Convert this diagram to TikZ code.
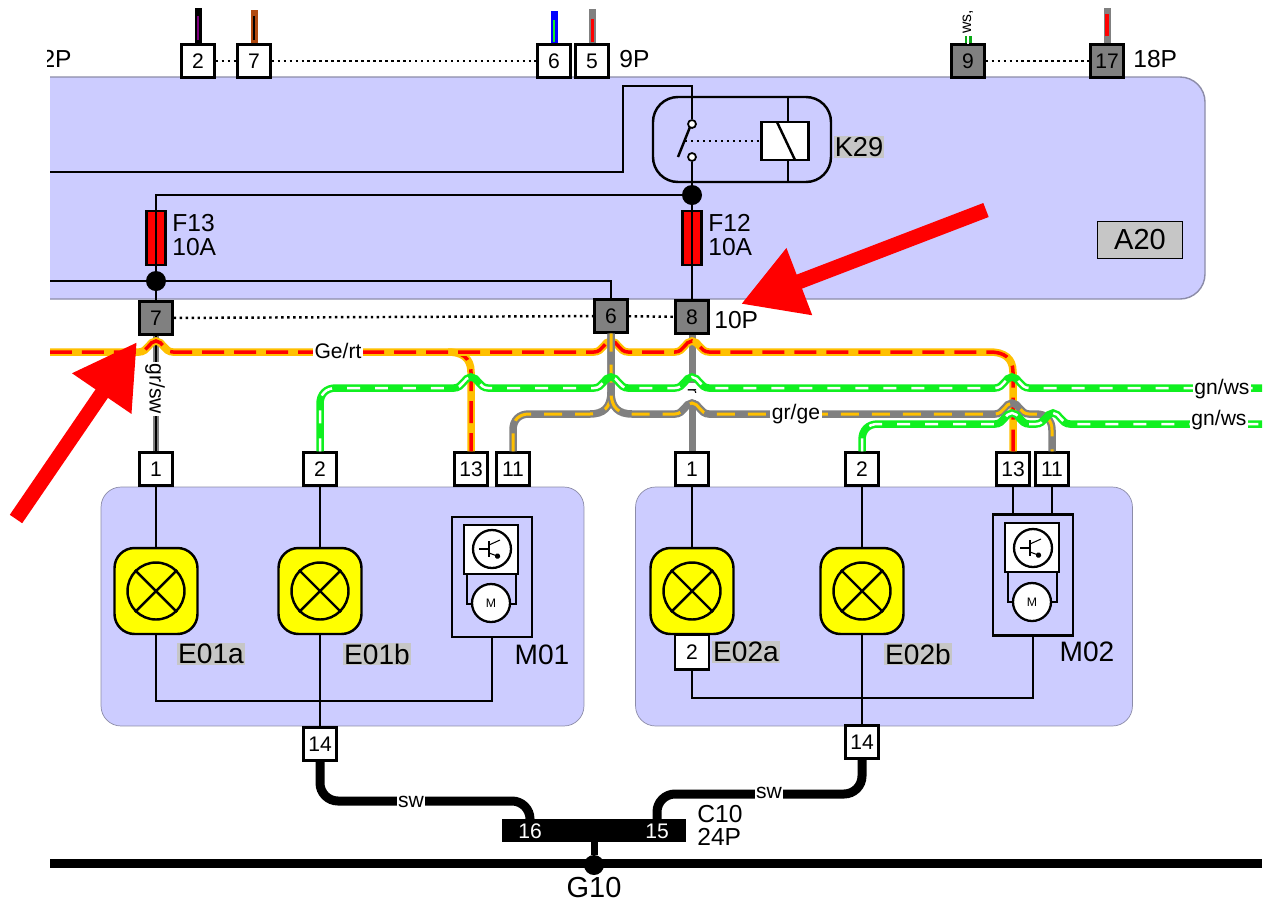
\documentclass[tikz,border=0pt]{standalone}
\usepackage{amsmath}
\usepackage{fontspec}
\setmainfont{Liberation Sans}
\usetikzlibrary{arrows.meta}
\usetikzlibrary{backgrounds}

\definecolor{unitblue}{HTML}{CCCCFF}
\definecolor{unitedge}{HTML}{8C8CA8}
\definecolor{tagGray}{HTML}{C6C6C6}
\definecolor{pinGray}{HTML}{808080}
\definecolor{wireYellow}{HTML}{FFC000}
\definecolor{wireGreen}{HTML}{10F020}
\definecolor{wireBrown}{HTML}{B04A10}
\definecolor{lampYellow}{HTML}{FFFF00}

\newcommand{\hop}[2]{-- ({#1-17},#2) .. controls ({#1-8},#2) and ({#1-7},{#2-11}) .. (#1,{#2-11}) .. controls ({#1+7},{#2-11}) and ({#1+8},#2) .. ({#1+17},#2)}

\tikzset{
        pinbox/.style={draw, fill=white, line width=1.3pt, inner sep=0pt, minimum width=.66cm, minimum height=.66cm, font=\fontsize{12}{12}\selectfont},
        graypin/.style={pinbox, fill=pinGray},
        unitbox/.style={draw=unitedge, fill=unitblue, rounded corners=.4cm, inner sep=0pt},
        wire/.style={line width=1.4pt},
        linkline/.style={dotted, line width=1.4pt},
        fusebox/.style={draw, fill=red, line width=1.2pt, inner sep=0pt, minimum width=.38cm, minimum height=1.08cm},
        blackdot/.style={circle, fill=black, inner sep=0pt, minimum size=.4cm},
        lampbox/.style={draw, fill=lampYellow, line width=1.4pt, rounded corners=.4cm, inner sep=0pt, minimum width=1.66cm, minimum height=1.72cm},
        bulb/.style={draw, circle, line width=1.4pt, inner sep=0pt, minimum size=1.14cm},
        roundpart/.style={draw, circle, fill=white, line width=1.3pt, inner sep=0pt, minimum size=.76cm, font=\fontsize{7}{7}\selectfont},
        chipbox/.style={draw, fill=white, line width=1.3pt, inner sep=0pt, minimum width=1.07cm, minimum height=.97cm},
        motorbox/.style={draw, line width=1.4pt, inner sep=0pt, minimum width=1.6cm, minimum height=2.4cm},
        bigtext/.style={inner sep=0pt, font=\fontsize{14}{16}\selectfont},
        tagtext/.style={fill=tagGray, inner sep=.5pt, font=\fontsize{16}{16}\selectfont},
        nametext/.style={inner sep=0pt, font=\fontsize{16}{16}\selectfont},
        smalltext/.style={fill=white, inner sep=1pt, font=\fontsize{12}{12}\selectfont},
        gert/.style={preaction={draw=wireYellow, line width=.15cm}, draw=red, line width=.07cm, dash pattern=on .44cm off .2cm},
        gnws/.style={preaction={draw=wireGreen, line width=.15cm}, draw=white, line width=.05cm, dash pattern=on .26cm off .3cm},
        grge/.style={preaction={draw=pinGray, line width=.15cm}, draw=wireYellow, line width=.06cm, dash pattern=on .36cm off .26cm},
        stubwire/.style={line width=.14cm},
        bigarrow/.style={draw=red, line width=.3cm, -{Triangle[length=1.25cm,width=1.35cm]}},
        thickwire/.style={line width=.18cm, rounded corners=.36cm}
}

\begin{document}
\begin{tikzpicture}[x=.02cm, y=-.02cm]
        \useasboundingbox (0,0) rectangle (1272,904);
        \fill[white] (0,0) rectangle (1272,904);

        \fill[unitblue] (50,77) [rounded corners=.5cm] -- (1205,77) -- (1205,299) [sharp corners] -- (50,299) -- cycle;
        \draw[unitedge, line width=.8pt, rounded corners=.5cm] (50,77) -- (1205,77) -- (1205,299) -- (50,299);
        \node[unitbox, minimum width=9.66cm, minimum height=4.78cm] (UnitA) at (342.5,606.5) {};
        \node[unitbox, minimum width=9.94cm, minimum height=4.78cm] (UnitB) at (884,606.5) {};

        \begin{scope}
                \clip (47,30) rectangle (120,90);
                \node[bigtext, anchor=east] (TwoP) at (72,59) {2P};
        \end{scope}
        \node[pinbox] (TopA) at (198,61) {2};
        \node[pinbox] (TopB) at (254,61) {7};
        \node[pinbox] (TopC) at (554,61) {6};
        \node[pinbox] (TopD) at (592,61) {5};
        \node[bigtext, anchor=west] (NineP) at (619,59) {9P};
        \node[graypin] (TopE) at (968,61) {9};
        \node[graypin] (TopF) at (1107,61) {17};
        \node[bigtext, anchor=west] (EighteenP) at (1133,59) {18P};

        \coordinate (EndA) at (198,8);
        \coordinate (EndB) at (254,10);
        \coordinate (EndC) at (554,11);
        \coordinate (EndD) at (592,9);
        \coordinate (EndE) at (968,36);
        \coordinate (EndF) at (1107,8);
        \draw[stubwire, black] (TopA) -- (EndA);
        \draw[line width=.05cm, violet] (198,40) -- (198,16);
        \draw[stubwire, wireBrown] (TopB) -- (EndB);
        \draw[line width=.04cm, black] (254,40) -- (254,16);
        \draw[stubwire, blue] (TopC) -- (EndC);
        \draw[line width=.04cm, wireGreen] (554,42) -- (554,20);
        \draw[stubwire, pinGray] (TopD) -- (EndD);
        \draw[line width=.06cm, red] (592,42) -- (592,19);
        \draw[stubwire, wireGreen!70!black] (TopE) -- (EndE);
        \draw[line width=.05cm, white] (968,44) -- (968,36);
        \node[rotate=90, fill=white, inner sep=0pt, font=\fontsize{9}{9}\selectfont] (WsTag) at (968,22) {ws,};
        \draw[stubwire, pinGray] (TopF) -- (EndF);
        \draw[line width=.07cm, red] (1107,36) -- (1107,14);

        \draw[linkline] (TopA) -- (TopB);
        \draw[linkline] (TopB) -- (TopC);
        \draw[linkline] (TopE) -- (TopF);

        \draw[wire, rounded corners=.5cm, fill=unitblue] (653,97) rectangle (831,182);
        \node[draw, fill=white, line width=1.4pt, inner sep=0pt, minimum width=.94cm, minimum height=.76cm] (Coil) at (785,141) {};
        \draw[wire] (788,97) -- (788,122);
        \draw[wire] (788,160) -- (788,182);
        \draw[wire] (777,122) -- (795,160);
        \node[draw, circle, fill=white, line width=1pt, inner sep=0pt, minimum size=.16cm] (ContactA) at (692,124) {};
        \node[draw, circle, fill=white, line width=1pt, inner sep=0pt, minimum size=.16cm] (ContactB) at (692,157) {};
        \draw[wire] (678,157) -- (690,127);
        \draw[linkline] (685,141) -- (Coil);
        \node[tagtext, font=\fontsize{15.5}{16}\selectfont] (K29) at (859,147) {K29};

        \draw[wire] (50,172) -- (623,172) -- (623,86) -- (692,86) -- (ContactA);
        \node[blackdot] (JoinF) at (692,195) {};
        \node[blackdot] (JoinG) at (156,281) {};
        \node[fusebox] (F12) at (692,238) {};
        \node[fusebox] (F13) at (156,238) {};
        \node[graypin] (PlugA) at (156,318) {7};
        \node[graypin] (PlugB) at (611,316) {6};
        \node[graypin] (PlugC) at (692,317) {8};

        \draw[wire] (ContactB) -- (JoinF);
        \draw[wire] (JoinF) -- (156,195) -- (JoinG);
        \draw[wire] (JoinF) -- (PlugC);
        \draw[wire] (JoinG) -- (PlugA);
        \draw[wire] (50,281) -- (JoinG);
        \draw[wire] (JoinG) -- (611,281) -- (PlugB);
        \draw[linkline] (PlugA) -- (PlugB);
        \draw[linkline] (PlugB) -- (PlugC);

        \node[bigtext, anchor=west, align=left, font=\fontsize{14}{14.2}\selectfont] (F13Text) at (172,235) {F13\\10A};
        \node[bigtext, anchor=west, align=left, font=\fontsize{14}{14.2}\selectfont] (F12Text) at (708,235) {F12\\10A};
        \node[draw=black, fill=tagGray, line width=1pt, inner sep=0pt, minimum width=1.7cm, minimum height=.74cm, font=\fontsize{16.5}{17}\selectfont] (A20) at (1140,240) {A20};
        \node[bigtext, anchor=west] (TenP) at (714,320) {10P};

        \node[pinbox] (PinA) at (156,469) {1};
        \node[pinbox] (PinB) at (320,469) {2};
        \node[pinbox] (PinC) at (471,469) {13};
        \node[pinbox] (PinD) at (513,469) {11};
        \node[pinbox] (PinE) at (692,469) {1};
        \node[pinbox] (PinF) at (862,469) {2};
        \node[pinbox] (PinG) at (1013,469) {13};
        \node[pinbox] (PinH) at (1052,469) {11};

        \draw[pinGray, line width=.12cm] (PlugA) -- (PinA);
        \draw[black, line width=.05cm] (PlugA) -- (PinA);
        \node[smalltext, rotate=-90] (GrSw) at (155,389) {gr/sw};
        \draw[pinGray, line width=.14cm] (PlugC) -- (PinE);
        \node[fill=white, inner sep=0pt, rotate=-90, minimum width=.34cm, font=\fontsize{9}{9}\selectfont] (GrTag) at (692,391) {r};

        \draw[gert] (448,352) .. controls (462,352) and (471,358) .. (471,372) -- (PinC.north);
        \draw[gert] (50,352) \hop{156}{352} \hop{611}{352} \hop{692}{352} -- (990,352) .. controls (1004,352) and (1013,358) .. (1013,372) -- (PinG.north);
        \node[smalltext] (GeRt) at (338,351) {Ge/rt};

        \draw[grge] (PinD.north) -- (513,430) .. controls (513,420) and (519,414) .. (529,414) -- (590,414) .. controls (603,414) and (611,408) .. (611,392) -- (PlugB.south);
        \draw[grge] (PlugB.south) -- (611,392) .. controls (611,408) and (619,414) .. (632,414) \hop{692}{414} \hop{1012}{414} -- (1036,414) .. controls (1046,414) and (1052,420) .. (1052,430) -- (PinH.north);
        \node[smalltext] (GrGe) at (796,414) {gr/ge};

        \draw[gnws] (PinB.north) -- (320,404) .. controls (320,394) and (326,388) .. (336,388) \hop{471}{388} \hop{611}{388} \hop{692}{388} \hop{1012}{388} -- (1262,388);
        \node[smalltext] (GnWsA) at (1222,389) {gn/ws};
        \draw[gnws] (PinF.north) -- (862,440) .. controls (862,430) and (868,424) .. (878,424) \hop{1012}{424} \hop{1053}{424} -- (1262,424);
        \node[smalltext] (GnWsB) at (1219,420) {gn/ws};

        \node[lampbox] (E01aBox) at (156,591) {};
        \node[bulb] (E01aBulb) at (156,591) {};
        \node[lampbox] (E01bBox) at (320,591) {};
        \node[bulb] (E01bBulb) at (320,591) {};
        \node[lampbox] (E02aBox) at (692,591) {};
        \node[bulb] (E02aBulb) at (692,591) {};
        \node[lampbox] (E02bBox) at (862,591) {};
        \node[bulb] (E02bBulb) at (862,591) {};

        \draw[wire] (E01aBulb.north west) -- (E01aBulb.south east);
        \draw[wire] (E01aBulb.north east) -- (E01aBulb.south west);
        \draw[wire] (E01bBulb.north west) -- (E01bBulb.south east);
        \draw[wire] (E01bBulb.north east) -- (E01bBulb.south west);
        \draw[wire] (E02aBulb.north west) -- (E02aBulb.south east);
        \draw[wire] (E02aBulb.north east) -- (E02aBulb.south west);
        \draw[wire] (E02bBulb.north west) -- (E02bBulb.south east);
        \draw[wire] (E02bBulb.north east) -- (E02bBulb.south west);

        \node[motorbox] (M01Box) at (492,577) {};
        \node[motorbox, minimum height=2.42cm] (M02Box) at (1033,575) {};
        \draw[wire] (467,574) -- (467,604) -- (480,604);
        \draw[wire] (516,574) -- (516,604) -- (504,604);
        \draw[wire] (1008,572) -- (1008,602) -- (1020,602);
        \draw[wire] (1057,572) -- (1057,602) -- (1045,602);
        \node[chipbox] (M01Chip) at (491,549.5) {};
        \node[chipbox] (M02Chip) at (1032,547.5) {};
        \node[roundpart] (M01Tr) at (492,549) {};
        \node[roundpart] (M02Tr) at (1033,548) {};
        \node[roundpart] (M01Mot) at (491,603) {M};
        \node[roundpart] (M02Mot) at (1032,602) {M};

        \draw[line width=.6pt] (479,549) -- (489,549);
        \draw[line width=.9pt] (489,541) -- (489,557);
        \draw[line width=.6pt] (489,545) -- (500,540);
        \draw[-{Circle[length=3pt]}, line width=.6pt] (489,553) -- (500,557);
        \draw[line width=.6pt] (1020,548) -- (1030,548);
        \draw[line width=.9pt] (1030,540) -- (1030,556);
        \draw[line width=.6pt] (1030,544) -- (1041,539);
        \draw[-{Circle[length=3pt]}, line width=.6pt] (1030,552) -- (1041,556);

        \node[pinbox, minimum width=.68cm, minimum height=.7cm] (PinJ) at (692,652) {2};
        \node[pinbox] (LowA) at (320,744) {14};
        \node[pinbox] (LowB) at (862,742) {14};

        \draw[wire] (PinA) -- (E01aBox);
        \draw[wire] (E01aBox) -- (156,701) -- (492,701) -- (M01Box);
        \draw[wire] (PinB) -- (E01bBox);
        \draw[wire] (E01bBox) -- (LowA);
        \draw[wire] (PinE) -- (E02aBox);
        \draw[wire] (E02aBox) -- (PinJ);
        \draw[wire] (PinJ) -- (692,698) -- (1033,698) -- (M02Box);
        \draw[wire] (PinF) -- (E02bBox);
        \draw[wire] (E02bBox) -- (LowB);
        \draw[wire] (PinG) -- (1013,514);
        \draw[wire] (PinH) -- (1052,514);

        \node[tagtext] (E01aText) at (211,654) {E01a};
        \node[tagtext] (E01bText) at (377,654) {E01b};
        \node[tagtext] (E02aText) at (746,652) {E02a};
        \node[tagtext] (E02bText) at (918,654) {E02b};
        \node[nametext] (M01Text) at (542,655) {M01};
        \node[nametext] (M02Text) at (1087,652) {M02};

        \node[fill=black, inner sep=0pt, minimum width=3.68cm, minimum height=.46cm] (C10Bar) at (594,830.5) {};
        \node[text=white, inner sep=0pt, font=\fontsize{12}{12}\selectfont] (Pin16) at (530,831) {16};
        \node[text=white, inner sep=0pt, font=\fontsize{12}{12}\selectfont] (Pin15) at (657,831) {15};
        \node[bigtext, anchor=west] (C10Text) at (697,814) {C10};
        \node[bigtext, anchor=west] (C24Text) at (697,837) {24P};
        \draw[thickwire] (LowA.south) -- (320,801) -- (530,801) -- (530,819);
        \draw[thickwire] (LowB.south) -- (862,794) -- (657,794) -- (657,819);
        \node[smalltext, inner sep=.5pt] (SwA) at (411,802) {sw};
        \node[smalltext, inner sep=.5pt] (SwB) at (769,793) {sw};

        \coordinate (BusL) at (50,863);
        \coordinate (BusR) at (1262,863);
        \draw[line width=.18cm] (BusL) -- (BusR);
        \node[blackdot] (G10Dot) at (594,865) {};
        \draw[line width=.14cm] (C10Bar.south) -- (G10Dot);
        \node[nametext, font=\fontsize{16.5}{17}\selectfont] (G10) at (594,888) {G10};

        \coordinate (TailA) at (16,519);
        \coordinate (TipA) at (137,342);
        \coordinate (TailB) at (986,210);
        \coordinate (TipB) at (741,304);
        \draw[bigarrow] (TailA) -- (TipA);
        \draw[bigarrow] (TailB) -- (TipB);

    \end{tikzpicture}
\end{document}
